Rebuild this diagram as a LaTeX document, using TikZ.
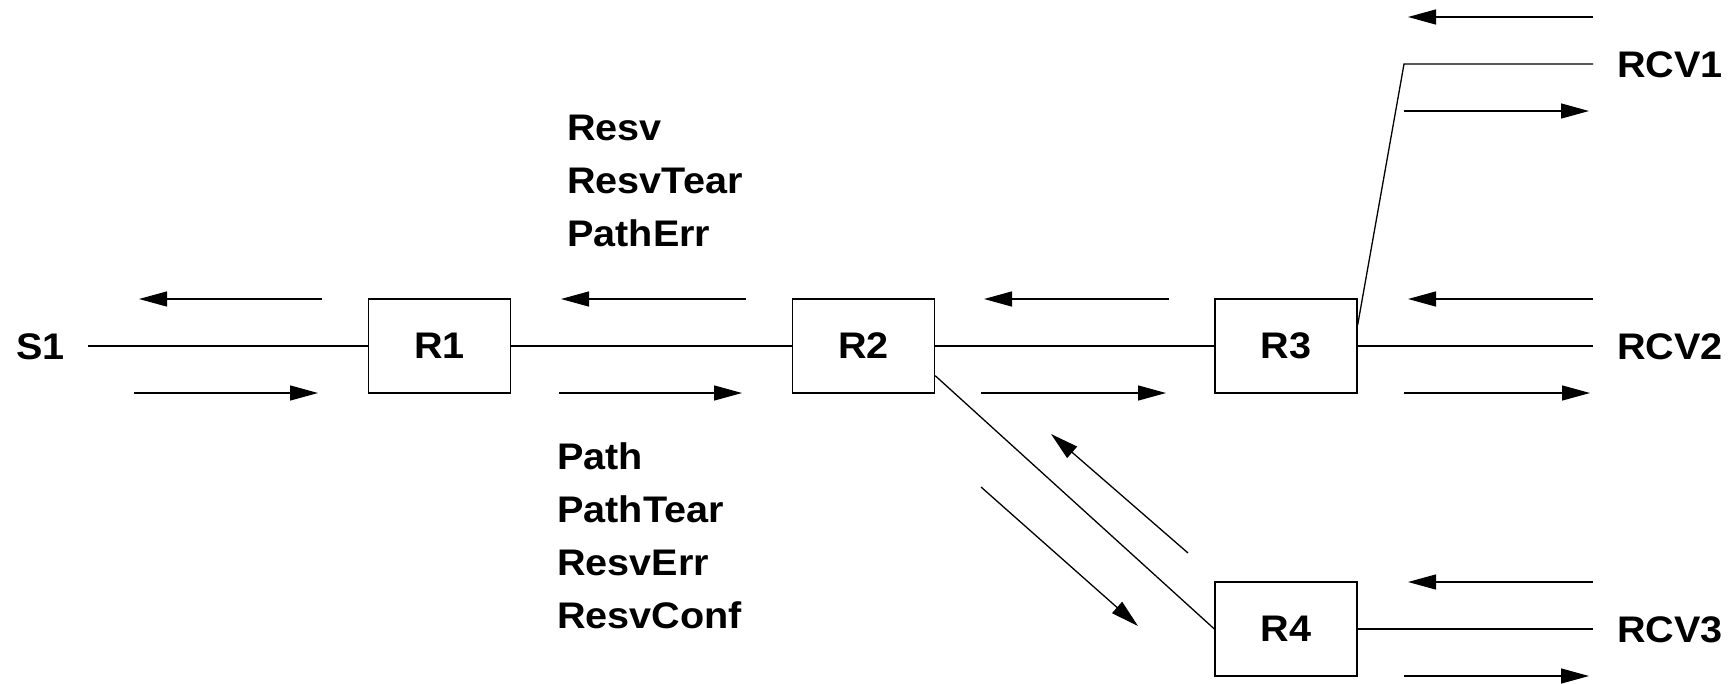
\documentclass[tikz,border=0pt]{standalone}
\usepackage{fontspec}
\setmainfont{Liberation Sans}[FakeStretch=1.07]
\usetikzlibrary{arrows.meta,calc}

\tikzset{
  router/.style={draw, line width=1.3pt, minimum width=142pt, minimum height=94pt,
                 inner sep=0pt, font=\fontsize{37}{44}\selectfont\bfseries},
  lbl/.style={inner sep=0pt, font=\fontsize{37}{44}\selectfont\bfseries},
  link/.style={line width=1.3pt},
  msg/.style={line width=1.3pt, -{Triangle[length=28pt,width=15pt]}},
}

\begin{document}
\begin{tikzpicture}[x=1pt,y=-1pt]
\useasboundingbox (0,0) rectangle (1731,683);

% routers
\node[router] (R1) at (439.5,346) {R1};
\node[router] (R2) at (863.5,346) {R2};
\node[router] (R3) at (1286,346) {R3};
\node[router] (R4) at (1286,629) {R4};

% end hosts
\node[lbl, anchor=base west] (S1)   at (16,359)   {S1};
\node[lbl, anchor=base west] (RCV1) at (1617,77)  {RCV1};
\node[lbl, anchor=base west] (RCV2) at (1617,359) {RCV2};
\node[lbl, anchor=base west] (RCV3) at (1617,642) {RCV3};

\coordinate (s1e)   at (88,346);
\coordinate (rcv1e) at (1593,64);
\coordinate (rcv2e) at (1593,346);
\coordinate (rcv3e) at (1593,629);
\coordinate (bend)  at (1404,64);

% links
\draw[link] (s1e) -- (R1.west);
\draw[link] (R1.east) -- (R2.west);
\draw[link] (R2.east) -- (R3.west);
\draw[link] (R3.east) -- (rcv2e);
\draw[link] ($(R3.east)+(0,-21)$) -- (bend) -- (rcv1e);
\draw[link] ($(R2.south east)+(0,-18)$) -- (R4.west);
\draw[link] (R4.east) -- (rcv3e);

% message directions: upstream (top) and downstream (bottom)
\draw[msg] (322,299) -- (139,299);
\draw[msg] (134,393) -- (318,393);
\draw[msg] (746,299) -- (561,299);
\draw[msg] (559,393) -- (742,393);
\draw[msg] (1169,299) -- (984,299);
\draw[msg] (981,393) -- (1166,393);
\draw[msg] (1593,299) -- (1408,299);
\draw[msg] (1404,393) -- (1590,393);
\draw[msg] (1593,17) -- (1408,17);
\draw[msg] (1404,111) -- (1589,111);
\draw[msg] (1593,582) -- (1408,582);
\draw[msg] (1404,676) -- (1589,676);
\draw[msg] (1188,553) -- (1051,434);
\draw[msg] (981,487) -- (1138,626);

% message names
\node[lbl, anchor=base west] (m1) at (567,140) {Resv};
\node[lbl, anchor=base west] (m2) at (567,193) {ResvTear};
\node[lbl, anchor=base west] (m3) at (567,246) {PathErr};
\node[lbl, anchor=base west] (m4) at (557,469) {Path};
\node[lbl, anchor=base west] (m5) at (557,522) {PathTear};
\node[lbl, anchor=base west] (m6) at (557,575) {ResvErr};
\node[lbl, anchor=base west] (m7) at (557,628) {ResvConf};
\end{tikzpicture}
\end{document}
